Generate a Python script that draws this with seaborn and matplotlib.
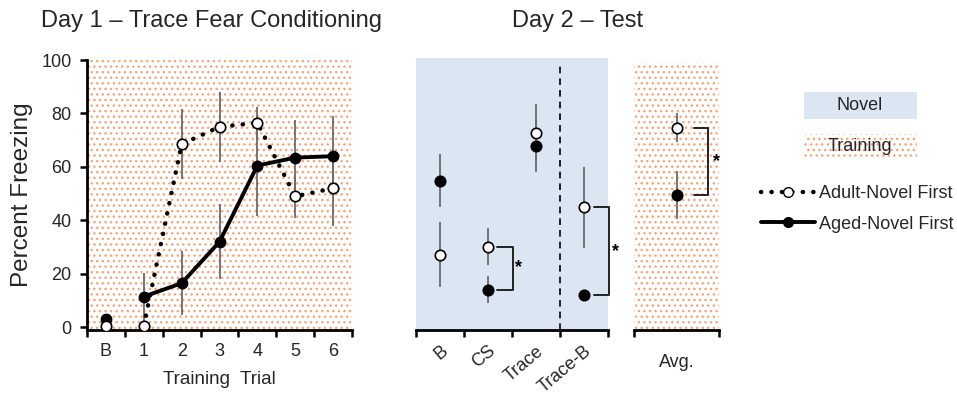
import matplotlib
matplotlib.use('Agg')
import matplotlib.pyplot as plt
import seaborn as sns
import pandas as pd
import numpy as np
from matplotlib.patches import Rectangle
from matplotlib.lines import Line2D

# Day 1 データ（トレース恐怖条件づけ）
trials = ['B', '1', '2', '3', '4', '5', '6']
adult_d1 = [0.5, 0.5, 68.5, 75, 76.5, 49, 52]
adult_d1_err = [0, 0, 13, 13, 6, 8, 14]
aged_d1 = [3, 11.5, 16.5, 32, 60.5, 63.5, 64]
aged_d1_err = [0, 9, 12, 14, 19, 14, 15]

# Day 2 データ（テスト）
test_conds = ['B', 'CS', 'Trace', 'Trace-B']
adult_d2 = [27, 30, 72, 44.5]
adult_d2_err = [12, 7, 11, 15]
aged_d2 = [54.5, 14, 67.5, 12]
aged_d2_err = [10, 5, 10, 2]

# 平均
avg_label = ['Avg.']
adult_avg = [74.5]
adult_avg_err = [5.5]
aged_avg = [49.5]
aged_avg_err = [9]

groups = ['Adult-Novel First', 'Aged-Novel First']

BLUE = '#dce6f2'
ORANGE = '#f5a577'
ERR = '#6b6b6b'
DOTS = (0, (0.05, 2.3))

sns.set_theme(style='white')
plt.rcParams['font.family'] = ['Liberation Sans', 'DejaVu Sans']
plt.rcParams['hatch.linewidth'] = 1.0
plt.rcParams['axes.unicode_minus'] = False

fig = plt.figure(figsize=(9.57, 3.96), dpi=100)
W, H = 957, 396


def px_axes(x0, x1, y0, y1):
    return fig.add_axes([x0 / W, 1 - y1 / H, (x1 - x0) / W, (y1 - y0) / H])


def hatch_bg(ax):
    ax.add_patch(Rectangle((0, 0), 1, 1, transform=ax.transAxes, facecolor='white',
                           edgecolor=ORANGE, hatch='...', linewidth=0, zorder=0))


def style_bottom(ax, n, labels, rot=0, fs=13):
    for s in ['top', 'right']:
        ax.spines[s].set_visible(False)
    ax.spines['bottom'].set_linewidth(2)
    ax.spines['bottom'].set_color('black')
    ax.set_xlim(-0.5, n - 0.5)
    ax.set_xticks(np.arange(-0.5, n, 1.0))
    ax.set_xticklabels([''] * (n + 1))
    ax.tick_params(axis='x', which='major', direction='out', length=5, width=1.8,
                   color='black', bottom=True)
    ax.set_xticks(np.arange(n), minor=True)
    if rot:
        ax.set_xticklabels(labels, minor=True, rotation=rot, ha='right',
                           rotation_mode='anchor', fontsize=fs)
    else:
        ax.set_xticklabels(labels, minor=True, fontsize=fs)
    ax.tick_params(axis='x', which='minor', length=0, pad=9, bottom=True)
    ax.set_ylim(-1, 100)


def draw_points(ax, x, adult, adult_err, aged, aged_err):
    ax.errorbar(x, adult, yerr=adult_err, fmt='none', ecolor=ERR, elinewidth=1.3,
                capsize=0, zorder=2)
    ax.errorbar(x, aged, yerr=aged_err, fmt='none', ecolor=ERR, elinewidth=1.3,
                capsize=0, zorder=2)
    ax.plot(x, aged, 'o', ms=7.5, mfc='black', mec='black', mew=1.2, zorder=5)
    ax.plot(x, adult, 'o', ms=7.5, mfc='white', mec='black', mew=1.2, zorder=5)


def bracket(ax, x, y_top, y_bot, dx0, dx1, dstar):
    ax.plot([x + dx0, x + dx1, x + dx1, x + dx0], [y_top, y_top, y_bot, y_bot],
            color='#222222', lw=1.4, zorder=3, clip_on=False)
    ax.text(x + dstar, (y_top + y_bot) / 2, '*', ha='center', va='center',
            fontsize=13, fontweight='bold', color='black')


# ---- Day 1 ----
ax1 = px_axes(87, 352, 60, 330)
hatch_bg(ax1)
df1 = pd.DataFrame({'trial': np.arange(len(trials)), 'adult': adult_d1, 'aged': aged_d1})
ax1.errorbar(df1['trial'], df1['adult'], yerr=adult_d1_err, fmt='none', ecolor=ERR,
             elinewidth=1.3, zorder=2)
ax1.errorbar(df1['trial'], df1['aged'], yerr=aged_d1_err, fmt='none', ecolor=ERR,
             elinewidth=1.3, zorder=2)
train = df1[df1['trial'] > 0]
sns.lineplot(data=train, x='trial', y='adult', ax=ax1, color='black', lw=3.2,
             linestyle=DOTS, dash_capstyle='round', zorder=3)
sns.lineplot(data=train, x='trial', y='aged', ax=ax1, color='black', lw=2.8, zorder=3)
ax1.lines[-2].set_dash_capstyle('round')
ax1.plot(df1['trial'], df1['aged'], 'o', ms=7.5, mfc='black', mec='black', zorder=5)
ax1.plot(df1['trial'], df1['adult'], 'o', ms=7.5, mfc='white', mec='black', mew=1.2, zorder=5)
style_bottom(ax1, len(trials), trials)
ax1.spines['left'].set_linewidth(2)
ax1.spines['left'].set_color('black')
ax1.set_yticks([0, 20, 40, 60, 80, 100])
ax1.tick_params(axis='y', direction='out', length=5, width=1.8, color='black',
                left=True, labelsize=13, pad=6)
ax1.set_ylabel('Percent Freezing', fontsize=17.5, labelpad=6)
ax1.set_xlabel('Training  Trial', fontsize=13.5, labelpad=8)
ax1.set_title('Day 1 \u2013 Trace Fear Conditioning', fontsize=17, pad=24, x=0.47)

# ---- Day 2 ----
ax2 = px_axes(416, 608, 58, 330)
ax2.set_facecolor(BLUE)
x2 = np.arange(len(test_conds))
draw_points(ax2, x2, adult_d2, adult_d2_err, aged_d2, aged_d2_err)
ax2.axvline(2.5, color='black', lw=1.2, ls=(0, (4, 3)), ymin=0.0, ymax=0.98)
style_bottom(ax2, len(test_conds), test_conds, rot=40)
ax2.spines['left'].set_visible(False)
ax2.set_yticks([])
ax2.set_ylabel('')
ax2.set_xlabel('')
bracket(ax2, 1, adult_d2[1], aged_d2[1], 0.19, 0.52, 0.64)
bracket(ax2, 3, adult_d2[3], aged_d2[3], 0.2, 0.52, 0.66)
ax2.set_title('Day 2 \u2013 Test', fontsize=17, pad=22, x=0.84)

# ---- Avg ----
ax3 = px_axes(634, 719, 62, 330)
hatch_bg(ax3)
draw_points(ax3, [0], adult_avg, adult_avg_err, aged_avg, aged_avg_err)
style_bottom(ax3, 1, avg_label)
ax3.set_ylim(-1, 99)
ax3.spines['left'].set_visible(False)
ax3.set_yticks([])
bracket(ax3, 0, adult_avg[0], aged_avg[0], 0.2, 0.375, 0.47)
ax3.tick_params(axis='x', which='minor', labelsize=13, pad=17)

# ---- 凡例 ----
fig.add_artist(Rectangle((804 / W, 1 - 119 / H), 113 / W, 27 / H, transform=fig.transFigure,
                         facecolor=BLUE, edgecolor='none'))
fig.text(860 / W, 1 - 105 / H, 'Novel', ha='center', va='center', fontsize=13)
fig.add_artist(Rectangle((804 / W, 1 - 159 / H), 113 / W, 25 / H, transform=fig.transFigure,
                         facecolor='white', edgecolor=ORANGE, hatch='...', linewidth=0))
fig.text(860 / W, 1 - 146 / H, 'Training', ha='center', va='center', fontsize=13)

handles = [
    Line2D([], [], color='black', lw=3.2, linestyle=DOTS, dash_capstyle='round',
           marker='o', ms=7, mfc='white', mec='black'),
    Line2D([], [], color='black', lw=2.8, marker='o', ms=7, mfc='black', mec='black'),
]
fig.legend(handles, groups, loc='center left', bbox_to_anchor=(754 / W, 1 - 209 / H),
           frameon=False, fontsize=13, handlelength=3.0, handletextpad=0.2,
           labelspacing=0.75, numpoints=1, borderaxespad=0)

fig.savefig('out.png', dpi=100)
